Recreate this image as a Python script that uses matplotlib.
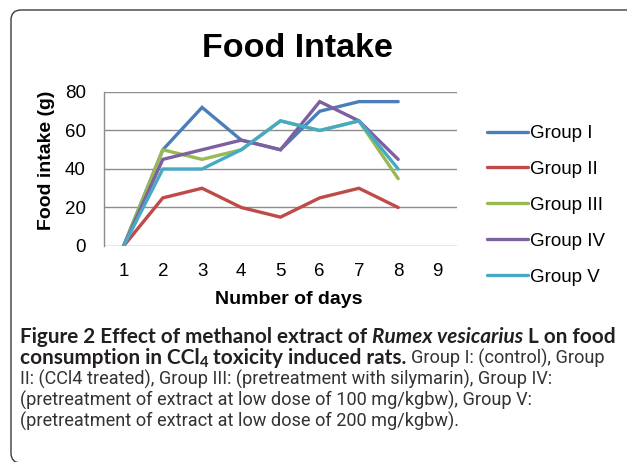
import matplotlib
matplotlib.use("Agg")
import matplotlib.pyplot as plt
from matplotlib.patches import FancyBboxPatch
from matplotlib.transforms import IdentityTransform

# ---------------- data ----------------
days = [1, 2, 3, 4, 5, 6, 7, 8]
tick_days = [1, 2, 3, 4, 5, 6, 7, 8, 9]
group_names = ["Group I", "Group II", "Group III", "Group IV", "Group V"]
group_i = [0, 50, 72, 55, 50, 70, 75, 75]
group_ii = [0, 25, 30, 20, 15, 25, 30, 20]
group_iii = [0, 50, 45, 50, 65, 60, 65, 35]
group_iv = [0, 45, 50, 55, 50, 75, 65, 45]
group_v = [0, 40, 40, 50, 65, 60, 65, 40]
y_ticks = [0, 20, 40, 60, 80]
colors = ["#4A7EBB", "#BE4B48", "#98B954", "#7D60A0", "#46AAC5"]

title = "Food Intake"
xlabel = "Number of days"
ylabel = "Food intake (g)"

W, H = 627, 462
DPI = 100
fig = plt.figure(figsize=(W / DPI, H / DPI), dpi=DPI)
fig.patch.set_facecolor("white")

CH = "Liberation Sans"

def fx(px):
    return px / W

def fy(py):
    return 1 - py / H

# plot area in pixels
L, R, T, B = 104, 457, 92, 246
ax = fig.add_axes([fx(L), fy(B), fx(R - L), (B - T) / H])
series = [group_i, group_ii, group_iii, group_iv, group_v]
for vals, name, c in zip(series, group_names, colors):
    ax.plot(days, vals, color=c, lw=2.4, label=name, solid_capstyle="round",
            solid_joinstyle="miter")

ax.set_xlim(0.5, 9.5)
ax.set_ylim(0, 80)
ax.set_xticks(tick_days)
ax.set_xticklabels([str(d) for d in tick_days])
ax.set_yticks(y_ticks)
ax.yaxis.grid(True, color="#8C8C8C", lw=1.0)
ax.set_axisbelow(True)
for s in ["top", "right", "bottom"]:
    ax.spines[s].set_visible(False)
ax.spines["left"].set_color("#8C8C8C")
ax.spines["left"].set_linewidth(1.0)
ax.tick_params(axis="both", length=0, labelsize=13.5, colors="black")
ax.tick_params(axis="y", pad=13)
ax.tick_params(axis="x", pad=12)
for lab in ax.get_xticklabels() + ax.get_yticklabels():
    lab.set_fontfamily(CH)

# titles / axis labels
fig.text(fx(297), fy(57), title, ha="center", va="baseline",
         fontsize=24.5, fontweight="bold", family=CH)
fig.text(fx(289), fy(300), xlabel, ha="center", va="center",
         fontsize=14, fontweight="bold", family=CH)
fig.text(fx(47), fy(160), ylabel, ha="center", va="center", rotation=90,
         fontsize=14, fontweight="bold", family=CH)

# legend
handles, labels = ax.get_legend_handles_labels()
leg = fig.legend(handles, labels, loc="upper left",
                 bbox_to_anchor=(fx(487), fy(125)), frameon=False,
                 borderpad=0, borderaxespad=0, handlelength=2.2,
                 handletextpad=0.12, labelspacing=1.0,
                 prop={"family": CH, "size": 13.5})
for t in leg.get_texts():
    t.set_color("black")

# border
border = FancyBboxPatch((11, -1), 640, 453,
                        boxstyle="round,pad=0,rounding_size=10",
                        transform=IdentityTransform(), fill=False,
                        edgecolor="#3C3C3C", lw=1.0)
fig.patches.append(border)

# caption
FAM = {"bold": "Lato", "normal": "Roboto"}
cap_color = "#231F20"
caption_lines = [
    [("Figure 2 Effect of methanol extract of", "bold", "normal", False),
     ("Rumex vesicarius", "bold", "italic", False),
     ("L on food", "bold", "normal", False)],
    [("consumption in CCl", "bold", "normal", False),
     ("4", "bold", "normal", True),
     ("toxicity induced rats.", "bold", "normal", False),
     ("Group I: (control), Group", "normal", "normal", False)],
    [("II: (CCl4 treated), Group III: (pretreatment with silymarin), Group IV:",
      "normal", "normal", False)],
    [("(pretreatment of extract at low dose of 100 mg/kgbw), Group V:",
      "normal", "normal", False)],
    [("(pretreatment of extract at low dose of 200 mg/kgbw).",
      "normal", "normal", False)],
]
baselines = [343, 364, 385, 406, 427]

renderer = fig.canvas.get_renderer()

def text_width(s, size, weight, style):
    t = fig.text(0, 0, s, fontsize=size, fontweight=weight, fontstyle=style,
                 family=FAM[weight])
    w = t.get_window_extent(renderer).width
    t.remove()
    return w

def space_width(size, weight, style):
    return text_width("a a", size, weight, style) - text_width("aa", size, weight, style)

base = 12.0
sizes = {}
wb = (text_width("Figure 2 Effect of methanol extract of", base, "bold", "normal")
      + text_width("Rumex vesicarius", base, "bold", "italic")
      + text_width("L on food", base, "bold", "normal")
      + 2 * space_width(base, "bold", "normal"))
sizes["bold"] = base * 594 / wb
wr = text_width(caption_lines[2][0][0], base, "normal", "normal")
sizes["normal"] = base * 531 / wr

x0 = 20
for pieces, bl in zip(caption_lines, baselines):
    x = x0
    for i, (s, wt, st, sub) in enumerate(pieces):
        sz = sizes[wt] * 0.72 if sub else sizes[wt]
        yb = bl + (3 if sub else 0)
        fig.text(fx(x), fy(yb), s, fontsize=sz, fontweight=wt, fontstyle=st,
                 family=FAM[wt], color=cap_color if wt == "bold" else "#333333",
                 ha="left", va="baseline")
        x += text_width(s, sz, wt, st)
        if i < len(pieces) - 1:
            nxt = pieces[i + 1]
            if nxt[3]:
                continue
            x += space_width(sizes[nxt[1]], nxt[1], nxt[2])

fig.savefig("out.png", dpi=DPI)
